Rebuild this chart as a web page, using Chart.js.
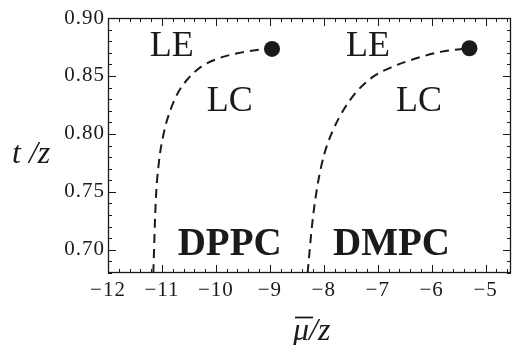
<!DOCTYPE html>
<html>
<head>
<meta charset="utf-8">
<script src="https://cdn.jsdelivr.net/npm/chart.js@4"></script>
<style>
  html, body { margin: 0; padding: 0; background: #fff; }
  #wrap { width: 519px; height: 345px; }
</style>
</head>
<body>
<div id="wrap"><canvas id="chart"></canvas></div>
<script>
// phase boundaries (mu/z, t/z)
const dppcX = [-11.16, -11.115, -11.055, -10.96, -10.84, -10.69, -10.51, -10.27, -9.96, -9.6, -9.24, -8.96]
const dppcY = [0.680, 0.742, 0.776, 0.802, 0.821, 0.8365, 0.848, 0.858, 0.865, 0.8696, 0.8724, 0.8733]
const dmpcX = [-8.30, -8.21, -8.115, -7.994, -7.84, -7.63, -7.39, -7.085, -6.72, -6.30, -5.81, -5.30]
const dmpcY = [0.680, 0.7244, 0.756, 0.782, 0.802, 0.821, 0.8365, 0.8494, 0.858, 0.865, 0.871, 0.8739]

// critical points (end of each line)
const critX = [-8.96, -5.30]
const critY = [0.8733, 0.8739]

const xTicks = [-12, -11, -10, -9, -8, -7, -6, -5]
const yTicks = [0.70, 0.75, 0.80, 0.85, 0.90]

const regionLabels = [
  { text: 'LE', x: -10.82, y: 0.875, bold: false },
  { text: 'LC', x: -9.745, y: 0.8276, bold: false },
  { text: 'LE', x: -7.18, y: 0.875, bold: false },
  { text: 'LC', x: -6.236, y: 0.8276, bold: false },
  { text: 'DPPC', x: -9.745, y: 0.7043, bold: true },
  { text: 'DMPC', x: -6.745, y: 0.7043, bold: true },
]

const serif = '"Liberation Serif", "DejaVu Serif", serif'
const ink = '#1a1a1a'

const toPoints = (xs, ys) => xs.map((x, i) => ({ x, y: ys[i] }))

const minus = v => v < 0 ? '\u2212' + Math.abs(v) : String(v)

// frame with inward ticks like the original plot
const framePlugin = {
  id: 'frame',
  beforeDraw(chart) {
    // the tick numbers in the original are set a bit wide
    chart.ctx.letterSpacing = '1px'
  },
  afterDraw(chart) {
    const { ctx, chartArea: ca, scales } = chart
    ctx.save()
    ctx.letterSpacing = '0px'
    ctx.strokeStyle = ink
    ctx.lineWidth = 1.3
    ctx.strokeRect(ca.left + 0.5, ca.top + 0.5, ca.right - ca.left - 1, ca.bottom - ca.top - 1)

    ctx.lineWidth = 1
    const tickX = (v, len) => {
      const px = Math.round(scales.x.getPixelForValue(v)) + 0.5
      ctx.beginPath()
      ctx.moveTo(px, ca.bottom); ctx.lineTo(px, ca.bottom - len)
      ctx.moveTo(px, ca.top); ctx.lineTo(px, ca.top + len)
      ctx.stroke()
    }
    const tickY = (v, len) => {
      const py = Math.round(scales.y.getPixelForValue(v)) + 0.5
      ctx.beginPath()
      ctx.moveTo(ca.left, py); ctx.lineTo(ca.left + len, py)
      ctx.moveTo(ca.right, py); ctx.lineTo(ca.right - len, py)
      ctx.stroke()
    }
    for (let i = -60; i <= -23; i++) {
      if (i % 5 !== 0) tickX(i / 5, 4)
    }
    xTicks.forEach(v => tickX(v, 8))
    for (let i = 68; i <= 90; i++) {
      if (i % 5 !== 0) tickY(i / 100, 4)
    }
    yTicks.forEach(v => tickY(v, 8))

    // axis titles
    ctx.fillStyle = ink
    ctx.textAlign = 'left'
    ctx.textBaseline = 'alphabetic'
    ctx.font = `italic 32px ${serif}`
    ctx.fillText('t /z', 12, 163)

    const mu = '\u03BC'
    const x0 = 293
    ctx.fillText(mu + '/z', x0, 340)
    // bar over the mu
    const muW = ctx.measureText(mu).width
    ctx.lineWidth = 1.8
    ctx.beginPath()
    ctx.moveTo(x0 + 2, 317.5)
    ctx.lineTo(x0 + muW + 4, 317.5)
    ctx.stroke()
    ctx.restore()
  },
  afterDatasetsDraw(chart) {
    const { ctx, scales } = chart
    ctx.save()
    ctx.letterSpacing = '0px'
    ctx.fillStyle = ink
    ctx.textAlign = 'center'
    ctx.textBaseline = 'middle'
    regionLabels.forEach(l => {
      ctx.font = l.bold ? `bold 39px ${serif}` : `36px ${serif}`
      ctx.fillText(l.text, scales.x.getPixelForValue(l.x), scales.y.getPixelForValue(l.y))
    })
    ctx.restore()
  }
}

const lineStyle = {
  showLine: true,
  borderColor: ink,
  borderWidth: 2,
  borderDash: [9, 6],
  pointRadius: 0,
  cubicInterpolationMode: 'monotone',
}

new Chart(document.getElementById('chart'), {
  type: 'scatter',
  data: {
    datasets: [
      { label: 'DPPC', data: toPoints(dppcX, dppcY), ...lineStyle },
      { label: 'DMPC', data: toPoints(dmpcX, dmpcY), ...lineStyle },
      {
        label: 'critical point',
        data: toPoints(critX, critY),
        pointRadius: 8,
        pointBackgroundColor: ink,
        pointBorderWidth: 0,
        showLine: false,
      },
    ]
  },
  options: {
    responsive: true,
    maintainAspectRatio: false,
    animation: false,
    layout: { padding: { top: 18, right: 0, bottom: 0, left: 0 } },
    plugins: { legend: { display: false }, tooltip: { enabled: false } },
    scales: {
      x: {
        type: 'linear',
        min: -12,
        max: -4.53,
        grid: { display: false, drawTicks: false },
        border: { display: false },
        afterBuildTicks: s => { s.ticks = xTicks.map(v => ({ value: v })) },
        afterFit: s => { s.height = 72 },
        ticks: {
          color: ink,
          padding: 5,
          maxRotation: 0,
          autoSkip: false,
          font: { family: serif, size: 21 },
          callback: v => minus(v),
        }
      },
      y: {
        type: 'linear',
        min: 0.68,
        max: 0.90,
        grid: { display: false, drawTicks: false },
        border: { display: false },
        afterBuildTicks: s => { s.ticks = yTicks.map(v => ({ value: v })) },
        afterFit: s => { s.width = 108 },
        ticks: {
          color: ink,
          padding: 3,
          autoSkip: false,
          font: { family: serif, size: 21 },
          callback: v => v.toFixed(2),
        }
      }
    }
  },
  plugins: [framePlugin]
})
</script>
</body>
</html>
